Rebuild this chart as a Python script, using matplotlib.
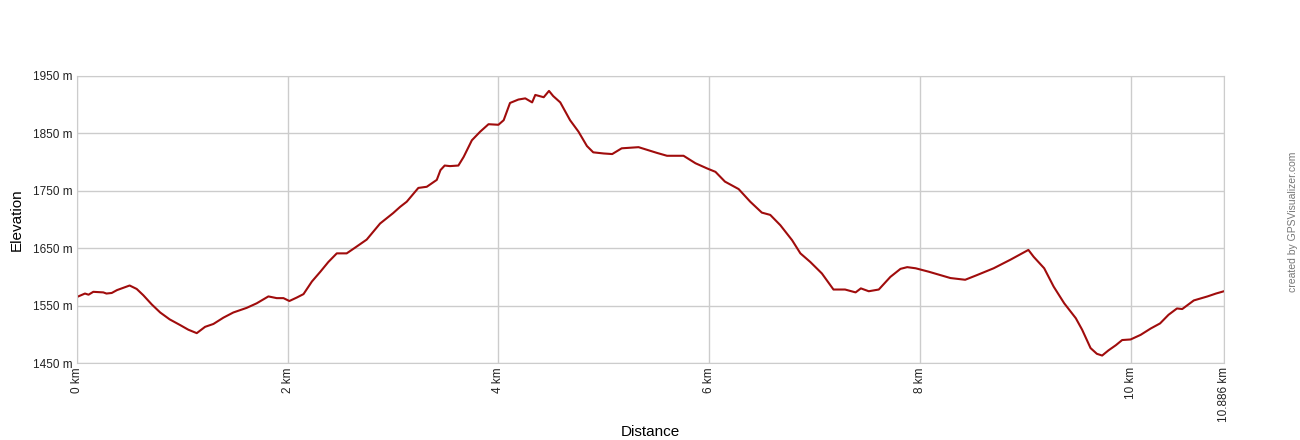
import matplotlib.pyplot as plt

# elevation profile
dist_km = [0.0, 0.076, 0.11, 0.155, 0.25, 0.28, 0.33, 0.38, 0.44, 0.50, 0.567, 0.63, 0.71, 0.79,
           0.88, 0.98, 1.057, 1.137, 1.216, 1.295, 1.39, 1.484, 1.61, 1.706, 1.817, 1.896, 1.96,
           2.016, 2.086, 2.15, 2.23, 2.31, 2.386, 2.466, 2.56, 2.64, 2.75, 2.877, 3.0, 3.067, 3.13,
           3.24, 3.32, 3.415, 3.45, 3.49, 3.54, 3.62, 3.67, 3.748, 3.827, 3.906, 4.0, 4.05, 4.11,
           4.19, 4.255, 4.32, 4.35, 4.43, 4.48, 4.52, 4.587, 4.68, 4.76, 4.84, 4.90, 5.0, 5.08,
           5.17, 5.33, 5.505, 5.6, 5.757, 5.87, 5.98, 6.06, 6.15, 6.28, 6.39, 6.50, 6.58, 6.676,
           6.787, 6.866, 6.96, 7.07, 7.18, 7.29, 7.39, 7.44, 7.515, 7.61, 7.72, 7.816, 7.88, 7.96,
           8.085, 8.195, 8.29, 8.43, 8.54, 8.70, 8.86, 8.97, 9.03, 9.08, 9.18, 9.27, 9.37, 9.48,
           9.54, 9.62, 9.68, 9.73, 9.79, 9.86, 9.92, 10.0, 10.095, 10.19, 10.28, 10.36, 10.44,
           10.49, 10.60, 10.73, 10.81, 10.886]
elev_m = [1565, 1571, 1569, 1574, 1573, 1571, 1572, 1577, 1581, 1585, 1579, 1568, 1552, 1538,
          1526, 1516, 1508, 1502, 1513, 1518, 1529, 1538, 1546, 1554, 1566, 1563, 1563,
          1558, 1564, 1570, 1592, 1609, 1626, 1641, 1641, 1651, 1665, 1693, 1711, 1722, 1731,
          1755, 1757, 1769, 1786, 1794, 1793, 1794, 1809, 1838, 1853, 1866, 1865, 1873, 1903,
          1909, 1911, 1904, 1917, 1913, 1924, 1915, 1904, 1873, 1853, 1828, 1817, 1815, 1814,
          1824, 1826, 1816, 1811, 1811, 1798, 1789, 1783, 1766, 1753, 1731, 1712, 1708, 1690,
          1664, 1641, 1626, 1606, 1578, 1578, 1573, 1580, 1575, 1578, 1600, 1614, 1617, 1615,
          1609, 1603, 1598, 1595, 1603, 1615, 1630, 1641, 1647, 1635, 1615, 1583, 1554, 1528,
          1508, 1476, 1466, 1463, 1472, 1481, 1490, 1491, 1499, 1510, 1519, 1534, 1545,
          1544, 1559, 1566, 1571, 1575]

x_ticks = [0, 2, 4, 6, 8, 10, 10.886]
x_labels = ['0 km', '2 km', '4 km', '6 km', '8 km', '10 km', '10.886 km']
y_ticks = [1450, 1550, 1650, 1750, 1850, 1950]
y_labels = ['1450 m', '1550 m', '1650 m', '1750 m', '1850 m', '1950 m']

plt.rcParams['font.family'] = ['Liberation Sans', 'DejaVu Sans']

fig = plt.figure(figsize=(13, 4.4), dpi=100)
ax = fig.add_axes([0.0592, 0.175, 0.8823, 0.6523])

ax.plot(dist_km, elev_m, color='#a00c0c', lw=1.5, solid_joinstyle='round')

ax.set_xlim(0, 10.886)
ax.set_ylim(1450, 1950)
ax.set_xticks(x_ticks)
ax.set_xticklabels(x_labels, rotation=90, fontsize=8.5, color='#222222')
ax.set_yticks(y_ticks)
ax.set_yticklabels(y_labels, fontsize=8.5, color='#222222')
ax.tick_params(length=0, pad=3)
ax.grid(True, color='#cccccc', lw=1)
ax.set_axisbelow(True)
for s in ax.spines.values():
    s.set_color('#cccccc')

fig.text(0.0125, 0.501, 'Elevation', rotation=90, ha='center', va='center', fontsize=11)
fig.text(0.5, 0.018, 'Distance', ha='center', va='center', fontsize=11)
fig.text(0.9945, 0.495, 'created by GPSVisualizer.com', rotation=90, ha='center', va='center',
         fontsize=7.5, color='#777777')

fig.savefig('out.png', dpi=100)
